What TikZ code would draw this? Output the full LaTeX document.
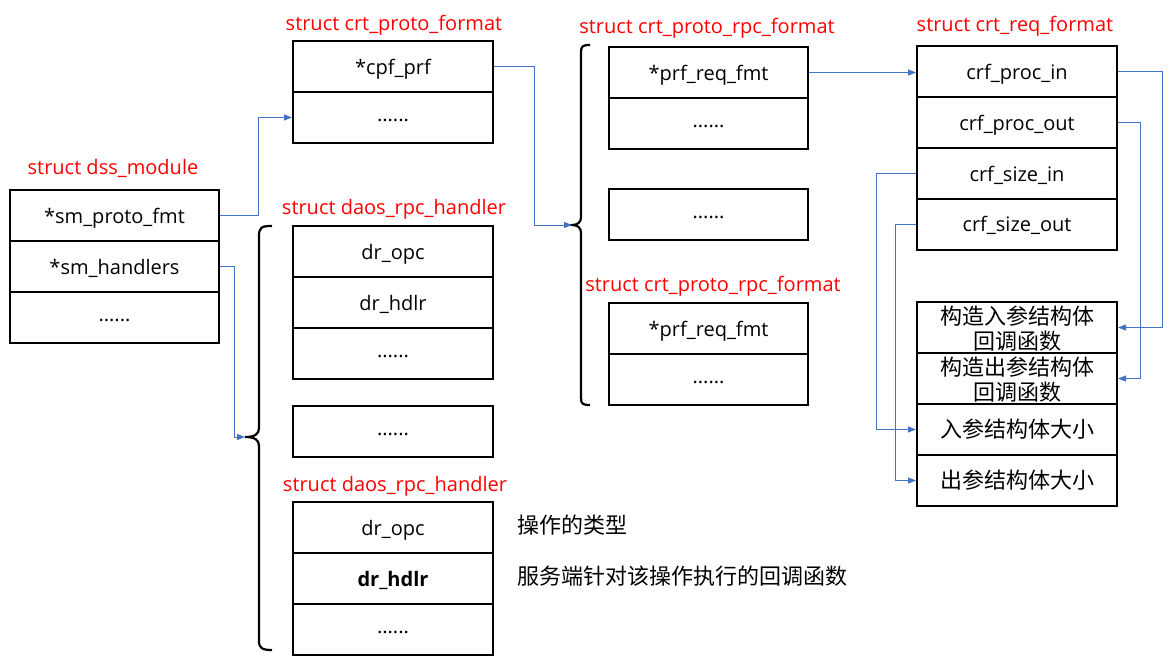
\documentclass[tikz,border=0pt]{standalone}
\usepackage{fontspec}
\setmainfont{Open Sans}
\newfontfamily\cjk{Noto Sans CJK SC}
\usetikzlibrary{arrows.meta}
\definecolor{linkblue}{HTML}{4472C4}
\begin{document}
\begin{tikzpicture}[x=1pt,y=-1pt,
  row/.style={draw,line width=2pt,minimum height=51pt,inner sep=0pt,font=\fontsize{20}{24}\selectfont,text height=19pt,text depth=4pt},
  wa/.style={row,minimum width=209pt},
  wb/.style={row,minimum width=200pt},
  wc/.style={row,minimum width=199pt},
  dots/.style={text height=12pt,text depth=4pt},
  cjkrow/.style={row,font=\cjk\fontsize{22}{25}\selectfont,text height=20pt,text depth=4pt},
  cjktxt/.style={inner sep=0pt,align=center,font=\cjk\fontsize{22}{25}\selectfont},
  title/.style={text=red,inner sep=0pt,font=\fontsize{20}{24}\selectfont},
  note/.style={anchor=west,inner sep=0pt,font=\cjk\fontsize{22}{25}\selectfont},
  conn/.style={linkblue,line width=1pt,-{Triangle[length=8pt,width=6pt]}},
  bracestyle/.style={line width=2.2pt}]
\useasboundingbox (0,0) rectangle (1176,662);

% dss_module
\node[title] (tdss) at (113,168) {struct dss\_module};
\node[wa] (smp) at (114.5,215.5) {*sm\_proto\_fmt};
\node[wa] (smh) at (114.5,266.5) {*sm\_handlers};
\node[wa,dots] (smd) at (114.5,317) {......};

% crt_proto_format
\node[title] (tcpf) at (394,25) {struct crt\_proto\_format};
\node[wb] (cpf) at (393,66.5) {*cpf\_prf};
\node[wb,dots] (cpfd) at (393,117.5) {......};

% daos_rpc_handler 1
\node[title] (tdh1) at (394,209) {struct daos\_rpc\_handler};
\node[wb] (opc1) at (393,251.5) {dr\_opc};
\node[wb] (hdl1) at (393,302.5) {dr\_hdlr};
\node[wb,dots] (dd1) at (393,353.5) {......};
\node[wb,dots] (dmid) at (393,431.5) {......};

% daos_rpc_handler 2
\node[title] (tdh2) at (395,486) {struct daos\_rpc\_handler};
\node[wb] (opc2) at (393,527.5) {dr\_opc};
\node[wb] (hdl2) at (393,578.5) {\bfseries dr\_hdlr};
\node[wb,dots] (dd2) at (393,629.5) {......};
\node[note] (n1) at (517,525) {操作的类型};
\node[note] (n2) at (517,576) {服务端针对该操作执行的回调函数};

% crt_proto_rpc_format
\node[title] (trpc1) at (707,28) {struct crt\_proto\_rpc\_format};
\node[wc] (prf1) at (708.5,72.5) {*prf\_req\_fmt};
\node[wc,dots] (prfd1) at (708.5,123.5) {......};
\node[wc,dots] (prfm) at (708.5,214.5) {......};
\node[title] (trpc2) at (713,286) {struct crt\_proto\_rpc\_format};
\node[wc] (prf2) at (708.5,328.5) {*prf\_req\_fmt};
\node[wc,dots] (prfd2) at (708.5,379.5) {......};

% crt_req_format
\node[title] (treq) at (1015,26) {struct crt\_req\_format};
\node[wb] (pin) at (1017,71.5) {crf\_proc\_in};
\node[wb] (pout) at (1017,122.5) {crf\_proc\_out};
\node[wb] (sin) at (1017,173.5) {crf\_size\_in};
\node[wb] (sout) at (1017,224) {crf\_size\_out};

\node[wb] (cb1) at (1017,327.5) {};
\node[cjktxt] (cb1t) at (1017,329) {构造入参结构体\\回调函数};
\node[wb] (cb2) at (1017,378.5) {};
\node[cjktxt] (cb2t) at (1017,380) {构造出参结构体\\回调函数};
\node[cjkrow,minimum width=200pt] (sz1) at (1017,429.5) {入参结构体大小};
\node[cjkrow,minimum width=200pt] (sz2) at (1017,480.5) {出参结构体大小};

% braces
\coordinate (b1) at (245,437);
\draw[bracestyle] (272,226) .. controls (262,226) and (259,227) .. (259,236) -- (259,428)
  .. controls (259,434) and (255,437) .. (245,437)
  .. controls (255,437) and (259,440) .. (259,446) -- (259,641)
  .. controls (259,648) and (262,650) .. (272,650);
\coordinate (b2) at (572,225);
\draw[bracestyle] (590,45) .. controls (583,45) and (581,46) .. (581,52) -- (581,217)
  .. controls (581,222) and (578,225) .. (572,225)
  .. controls (578,225) and (581,228) .. (581,233) -- (581,398)
  .. controls (581,404) and (583,405) .. (590,405);

% connectors
\draw[conn] (smp.east) -- ++(38,0) |- (cpfd.west);
\draw[conn] (smh.east) -- ++(14,0) |- (b1);
\draw[conn] (cpf.east) -- ++(40,0) |- (b2);
\draw[conn] (prf1.east) -- (prf1.east -| pin.west);
\draw[conn] (pin.east) -- ++(44,0) |- (cb1.east);
\draw[conn] (pout.east) -- ++(22,0) |- (cb2.east);
\draw[conn] (sin.west) -- ++(-40,0) |- (sz1.west);
\draw[conn] (sout.west) -- ++(-21,0) |- (sz2.west);
\end{tikzpicture}
\end{document}
